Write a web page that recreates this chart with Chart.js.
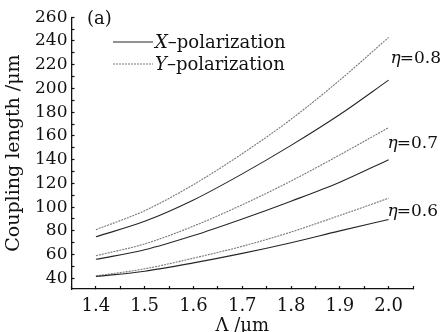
<!DOCTYPE html>
<html>
<head>
<meta charset="utf-8">
<script src="https://cdn.jsdelivr.net/npm/chart.js@4"></script>
<style>
  html, body { margin: 0; padding: 0; background: #fff; }
  #wrap { width: 442px; height: 332px; }
</style>
</head>
<body>
<div id="wrap"><canvas id="chart" width="442" height="332"></canvas></div>
<script>
// wavelength Λ (µm)
const xValues = [1.4, 1.5, 1.6, 1.7, 1.8, 1.9, 2.0];

// coupling length (µm) for each η
const xPol08 = [75, 88, 106, 128, 152, 178, 207];
const yPol08 = [81, 97, 119, 145, 174, 207, 243];
const xPol07 = [56, 64, 76, 90, 105, 121, 140];
const yPol07 = [59, 69, 84, 102, 122, 144, 167];
const xPol06 = [41.5, 46, 53, 61, 70, 80, 89.6];
const yPol06 = [42, 48, 57, 67, 79, 93, 107.5];

const xTicks = [1.35, 1.4, 1.45, 1.5, 1.55, 1.6, 1.65, 1.7, 1.75, 1.8, 1.85, 1.9, 1.95, 2.0, 2.05];
const yTicks = [40, 50, 60, 70, 80, 90, 100, 110, 120, 130, 140, 150, 160, 170, 180, 190, 200, 210, 220, 230, 240, 250, 260];

const etaLabels = ["0.8", "0.7", "0.6"];
const legendNames = ["X", "Y"];

const serif = "'DejaVu Serif', serif";
const ink = "#111";

function pts(arr) {
  return arr.map((v, i) => ({ x: xValues[i], y: v }));
}

const solidStyle = { borderColor: "#262626", borderWidth: 1.1, borderDash: [] };
const dotStyle = { borderColor: "#777", borderWidth: 1.1, borderDash: [2, 1] };

function line(label, arr, style) {
  return Object.assign({
    label: label,
    data: pts(arr),
    pointRadius: 0,
    fill: false,
    cubicInterpolationMode: "monotone"
  }, style);
}

// labels and legend drawn inside the plot
const annotations = {
  id: "annotations",
  afterDraw(chart) {
    const ctx = chart.ctx;
    const xs = chart.scales.x, ys = chart.scales.y;
    ctx.save();
    ctx.fillStyle = ink;
    ctx.textBaseline = "middle";

    ctx.font = "18px " + serif;
    ctx.fillText("(a)", 87, 19);

    // legend
    const rows = [[solidStyle, 42], [dotStyle, 64]];
    rows.forEach((r, i) => {
      const st = r[0], y = r[1];
      ctx.strokeStyle = st.borderColor;
      ctx.lineWidth = st.borderWidth;
      ctx.setLineDash(st.borderDash);
      ctx.beginPath();
      ctx.moveTo(113, y);
      ctx.lineTo(153, y);
      ctx.stroke();
      ctx.setLineDash([]);
      ctx.font = "italic 18px " + serif;
      ctx.fillText(legendNames[i], 155, y + 1);
      const w = ctx.measureText(legendNames[i]).width;
      ctx.font = "18px " + serif;
      ctx.fillText("\u2013polarization", 155 + w, y + 1);
    });

    // η labels
    const etaY = [yPol08, yPol07, yPol06].map((arr, i) => {
      const top = ys.getPixelForValue(arr[arr.length - 1]);
      const bot = ys.getPixelForValue([xPol08, xPol07, xPol06][i][arr.length - 1]);
      return (top + bot) / 2 + [0, 0, 3][i];
    });
    etaLabels.forEach((t, i) => {
      const x0 = xs.getPixelForValue(2.0) + [2, -1, -1][i];
      ctx.font = "italic 17px " + serif;
      ctx.fillText("\u03b7", x0, etaY[i]);
      const w = ctx.measureText("\u03b7").width;
      ctx.font = "17px " + serif;
      ctx.fillText("=" + t, x0 + w - 1, etaY[i]);
    });
    ctx.restore();
  }
};

new Chart(document.getElementById("chart").getContext("2d"), {
  type: "line",
  data: {
    datasets: [
      line("X 0.8", xPol08, solidStyle),
      line("Y 0.8", yPol08, dotStyle),
      line("X 0.7", xPol07, solidStyle),
      line("Y 0.7", yPol07, dotStyle),
      line("X 0.6", xPol06, solidStyle),
      line("Y 0.6", yPol06, dotStyle)
    ]
  },
  options: {
    responsive: false,
    animation: false,
    events: [],
    layout: { padding: { left: 0, right: 29, top: 15, bottom: 0 } },
    plugins: { legend: { display: false }, tooltip: { enabled: false } },
    scales: {
      x: {
        type: "linear",
        min: 1.35,
        max: 2.05,
        afterBuildTicks: (s) => { s.ticks = xTicks.map(v => ({ value: v })); },
        afterFit: (s) => { s.height = 43; },
        border: { display: true, color: ink, width: 1.3 },
        grid: { drawOnChartArea: false, tickLength: -3, tickColor: ink, tickWidth: 1.2 },
        ticks: {
          autoSkip: false,
          maxRotation: 0,
          padding: 10,
          color: ink,
          font: { family: serif, size: 18 },
          callback: (v) => (Math.round(v * 100) % 10 === 0 ? v.toFixed(1) : "")
        },
        title: {
          display: true,
          text: "\u039b /\u03bcm",
          color: ink,
          font: { family: serif, size: 18, lineHeight: 1 },
          padding: { top: 0, bottom: -3 }
        }
      },
      y: {
        min: 31,
        max: 260,
        afterBuildTicks: (s) => { s.ticks = yTicks.map(v => ({ value: v })); },
        afterFit: (s) => { s.width = 71.5; },
        border: { display: true, color: ink, width: 1.3 },
        grid: { drawOnChartArea: false, tickLength: -3, tickColor: ink, tickWidth: 1.2 },
        ticks: {
          autoSkip: false,
          padding: 7,
          color: ink,
          font: { family: serif, size: 17 },
          callback: (v) => (v % 20 === 0 ? String(v) : "")
        },
        title: {
          display: true,
          text: "Coupling length /\u03bcm",
          color: ink,
          font: { family: serif, size: 19, lineHeight: 1 },
          padding: { top: 5, bottom: 0 }
        }
      }
    }
  },
  plugins: [annotations]
});
</script>
</body>
</html>
